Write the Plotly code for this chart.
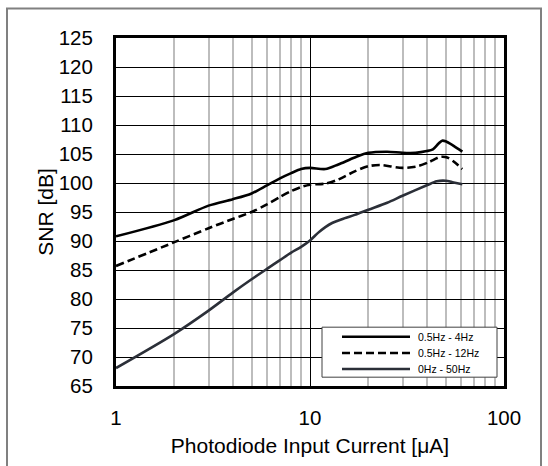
import plotly.graph_objects as go

# ---- data ----
x_4hz = [1, 2, 3, 4, 5, 6, 7, 8, 9, 10, 12, 14, 17, 20, 25, 30, 35, 40, 43, 46, 48, 50, 55, 61]
snr_4hz = [90.8, 93.6, 96.1, 97.2, 98.2, 99.6, 100.8, 101.7, 102.4, 102.6, 102.4, 103.2, 104.4, 105.2,
           105.4, 105.2, 105.2, 105.5, 105.8, 106.8, 107.3, 107.2, 106.4, 105.4]

x_12hz = [1, 2, 3, 4, 5, 6, 7, 8, 9, 10, 12, 14, 17, 20, 23, 30, 36, 41, 47, 51, 55, 61]
snr_12hz = [85.7, 89.8, 92.2, 93.8, 95.0, 96.3, 97.6, 98.6, 99.3, 99.7, 99.9, 100.6, 102.0, 102.9,
            103.1, 102.6, 102.9, 103.6, 104.5, 104.4, 103.7, 102.4]

x_50hz = [1, 2, 3, 4, 5, 6, 7, 8, 9, 10, 11, 12, 13, 15, 17, 20, 25, 30, 40, 45, 50, 55, 61]
snr_50hz = [68.1, 74.0, 78.0, 81.1, 83.4, 85.2, 86.7, 88.0, 89.0, 90.1, 91.4, 92.4, 93.1, 93.9,
            94.5, 95.4, 96.6, 97.8, 99.6, 100.3, 100.4, 100.1, 99.8]

series_names = ["0.5Hz - 4Hz", "0.5Hz - 12Hz", "0Hz - 50Hz"]
series_colors = ["#000000", "#000000", "#2b2f38"]
series_dash = ["solid", "8px,4px", "solid"]

x_ticks = [1, 10, 100]
x_minor = [2, 3, 4, 5, 6, 7, 8, 9, 20, 30, 40, 50, 60, 70, 80, 90]
y_ticks = list(range(65, 126, 5))

FONT = "Liberation Sans, Arial, sans-serif"

# plot-area geometry in pixels (used only for decorations: frame + legend)
PL, PR, PT, PB = 116, 504, 38, 393
W, H = 548, 466


def px(xp):
    return (xp - PL) / (PR - PL)


def py(yp):
    return (PB - yp) / (PB - PT)


fig = go.Figure()
for xs, ys, nm, col, dsh in zip([x_4hz, x_12hz, x_50hz], [snr_4hz, snr_12hz, snr_50hz],
                                series_names, series_colors, series_dash):
    fig.add_trace(go.Scatter(x=xs, y=ys, mode="lines", name=nm, showlegend=False,
                             line=dict(color=col, width=2.6, dash=dsh, shape="spline", smoothing=0.8)))

shapes = [
    # outer picture frame
    dict(type="rect", xref="paper", yref="paper",
         x0=px(7), x1=px(541), y0=py(H + 20), y1=py(8),
         line=dict(color="#808080", width=2), layer="below"),
    # legend box
    dict(type="rect", xref="paper", yref="paper",
         x0=px(322), x1=px(497), y0=py(384), y1=py(333),
         line=dict(color="#404040", width=1), fillcolor="white", layer="above"),
]
annotations = []
row_y = [342.7, 359.3, 375.7]
for nm, col, dsh, ry in zip(series_names, series_colors, series_dash, row_y):
    shapes.append(dict(type="line", xref="paper", yref="paper",
                       x0=px(342), x1=px(410), y0=py(ry), y1=py(ry),
                       line=dict(color=col, width=2.6, dash=dsh), layer="above"))
    annotations.append(dict(xref="paper", yref="paper", x=px(416), y=py(ry),
                            xanchor="left", yanchor="middle", showarrow=False,
                            text=nm, font=dict(size=10.5, family=FONT, color="#000000")))

fig.update_layout(
    width=W, height=H,
    margin=dict(l=PL, r=W - PR, t=PT, b=H - PB),
    paper_bgcolor="white", plot_bgcolor="white",
    font=dict(family=FONT, color="#000000", size=20.5),
    showlegend=False,
    shapes=shapes, annotations=annotations,
)

fig.update_xaxes(
    type="log", range=[0, 2],
    tickvals=x_ticks, ticktext=[str(v) for v in x_ticks],
    ticks="", ticklabelstandoff=11,
    showgrid=True, gridcolor="#000000", gridwidth=1,
    minor=dict(tickvals=x_minor, showgrid=True, gridcolor="#bdbdbd", gridwidth=2, ticks=""),
    showline=True, linecolor="#000000", linewidth=3, mirror=True,
    title=dict(text="Photodiode Input Current [μA]", standoff=11, font=dict(size=21)),
    zeroline=False,
)
fig.update_yaxes(
    range=[65, 125], tickvals=y_ticks,
    ticks="", ticklabelstandoff=16,
    showgrid=True, gridcolor="#000000", gridwidth=1,
    showline=True, linecolor="#000000", linewidth=3, mirror=True,
    title=dict(text="SNR [dB]", standoff=0, font=dict(size=21)),
    zeroline=False,
)

fig.write_html("out.html")
